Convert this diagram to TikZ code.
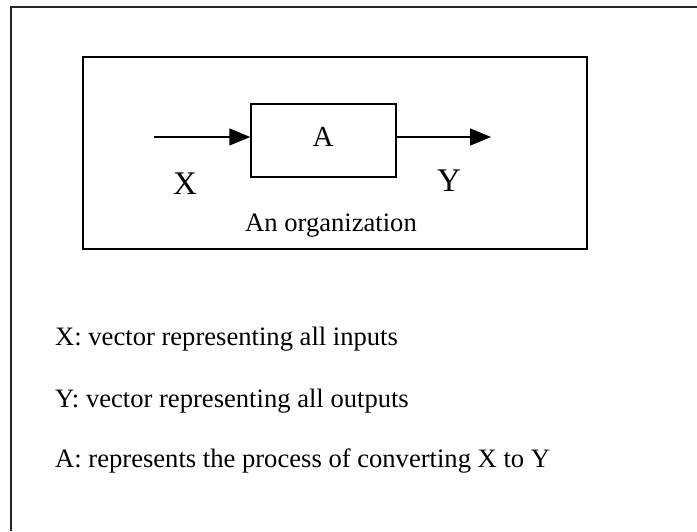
\documentclass[tikz,border=0pt]{standalone}
\usepackage{fontspec}
\setmainfont{Liberation Serif}
\usetikzlibrary{arrows.meta}
\begin{document}
\begin{tikzpicture}[x=1pt,y=1pt,
  frameline/.style={line width=2.2pt, draw=black!85},
  boxline/.style={line width=2pt},
  procbox/.style={draw, line width=1.5pt, minimum width=145pt, minimum height=73pt, inner sep=0pt},
  flow/.style={line width=1.5pt, -{Triangle[length=21pt,width=17pt]}},
  body/.style={inner sep=0pt, font=\fontsize{26.6}{32}\selectfont},
  mid/.style={inner sep=0pt, font=\fontsize{29}{35}\selectfont},
  big/.style={inner sep=0pt, font=\fontsize{33}{40}\selectfont}]
\useasboundingbox (0,0) rectangle (697,531);
\fill[white] (0,0) rectangle (697,531);
% outer frame (top and left edges visible)
\draw[frameline] (11,0) -- (11,524) -- (697,524);
% organization box
\draw[boxline] (83,282) rectangle (587,474);
% process box
\node[procbox] (A) at (323.5,390.5) {};
\node[mid, anchor=base] (Alab) at (323,384) {A};
\coordinate (xin) at (154,394);
\coordinate (yout) at (491,394);
\draw[flow] (xin) -- (xin -| A.west);
\draw[flow] (yout -| A.east) -- (yout);
\node[big, anchor=base] (X) at (185,336) {X};
\node[big, anchor=base] (Y) at (449,339) {Y};
\node[body, anchor=base] (org) at (331,299) {An organization};
% legend
\node[body, anchor=base west] (lx) at (55,185) {X: vector representing all inputs};
\node[body, anchor=base west] (ly) at (55,124) {Y: vector representing all outputs};
\node[body, anchor=base west] (la) at (55,64) {A: represents the process of converting X to Y};
\end{tikzpicture}
\end{document}
